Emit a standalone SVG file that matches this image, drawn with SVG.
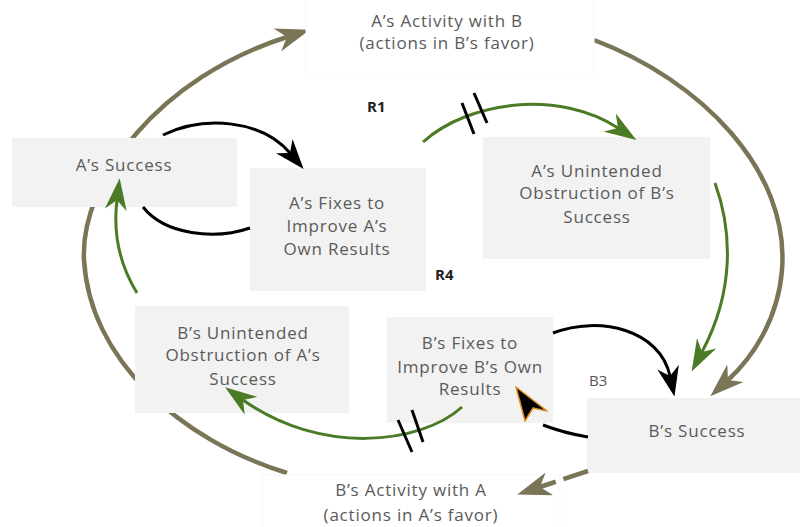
<svg xmlns="http://www.w3.org/2000/svg" width="800" height="527" viewBox="0 0 800 527">
  <style>
    .box { fill: #f2f2f2; }
    .abox { fill: #ffffff; stroke: #f8f8f8; stroke-width: 1; }
    .lbl { font-family: "Open Sans", "Liberation Sans", sans-serif; font-size: 17px; letter-spacing: 0.8px; fill: #5a5a5a; text-anchor: middle; }
    .loop { font-family: "Open Sans", "Liberation Sans", sans-serif; font-size: 15px; }
    .olive { fill: none; stroke: #7b7558; stroke-width: 4.5; }
    .green { fill: none; stroke: #4b7b25; stroke-width: 3; }
    .black { fill: none; stroke: #000000; stroke-width: 3; }
    .tick { stroke: #000000; stroke-width: 3; }
  </style>
  <defs>
    <marker id="headOlive" markerUnits="userSpaceOnUse" viewBox="0 -12 34 24" refX="10" refY="0" markerWidth="34" markerHeight="24" orient="auto">
      <path d="M0,-12 L34,0 L0,12 L10,0 Z" fill="#7b7558"/>
    </marker>
    <marker id="headGreen" markerUnits="userSpaceOnUse" viewBox="0 -11 32 22" refX="10" refY="0" markerWidth="32" markerHeight="22" orient="auto">
      <path d="M0,-11 L32,0 L0,11 L10,0 Z" fill="#4b7b25"/>
    </marker>
    <marker id="headBlack" markerUnits="userSpaceOnUse" viewBox="0 -11 30 22" refX="9" refY="0" markerWidth="30" markerHeight="22" orient="auto">
      <path d="M0,-11 L30,0 L0,11 L9,0 Z" fill="#000000"/>
    </marker>
  </defs>

  <rect width="800" height="527" fill="#ffffff"/>

  <!-- outer activity loop, passes behind the success boxes -->
  <g id="connectors-back">
    <path class="olive" d="M287,473 C180,440 90,360 84,260 C80,180 160,77 287,37" marker-end="url(#headOlive)"/>
    <path class="olive" d="M594,40 C700,80 790,170 782,270 C778,320 752,358 728,380" marker-end="url(#headOlive)"/>
  </g>

  <g id="node-a-activity">
    <rect class="abox" x="306" y="-1" width="288" height="76"/>
    <text class="lbl" x="447" y="27">A’s Activity with B</text>
    <text class="lbl" x="447" y="49">(actions in B’s favor)</text>
  </g>
  <g id="node-b-activity">
    <rect class="abox" x="262" y="475" width="298" height="60"/>
    <text class="lbl" x="411" y="496">B’s Activity with A</text>
    <text class="lbl" x="411" y="521">(actions in A’s favor)</text>
  </g>
  <g id="node-a-success">
    <rect class="box" x="12" y="138" width="225" height="69"/>
    <text class="lbl" x="124" y="171">A’s Success</text>
  </g>
  <g id="node-a-fixes">
    <rect class="box" x="250" y="168" width="176" height="123"/>
    <text class="lbl" x="337" y="209">A’s Fixes to</text>
    <text class="lbl" x="337" y="232">Improve A’s</text>
    <text class="lbl" x="337" y="255">Own Results</text>
  </g>
  <g id="node-a-obstruction">
    <rect class="box" x="483" y="137" width="227" height="122"/>
    <text class="lbl" x="597" y="177">A’s Unintended</text>
    <text class="lbl" x="597" y="199">Obstruction of B’s</text>
    <text class="lbl" x="597" y="223">Success</text>
  </g>
  <g id="node-b-obstruction">
    <rect class="box" x="135" y="306" width="214" height="107"/>
    <text class="lbl" x="243" y="339">B’s Unintended</text>
    <text class="lbl" x="243" y="361">Obstruction of A’s</text>
    <text class="lbl" x="243" y="385">Success</text>
  </g>
  <g id="node-b-fixes">
    <rect class="box" x="387" y="317" width="166" height="106"/>
    <text class="lbl" x="470" y="349">B’s Fixes to</text>
    <text class="lbl" x="470" y="373">Improve B’s Own</text>
    <text class="lbl" x="470" y="395">Results</text>
  </g>
  <g id="node-b-success">
    <rect class="box" x="587" y="398" width="213" height="75"/>
    <text class="lbl" x="697" y="437">B’s Success</text>
  </g>

  <g id="connectors">
    <!-- A's fixes loop -->
    <path class="black" d="M163,135 C205,115 262,120 290,153" marker-end="url(#headBlack)"/>
    <path class="black" d="M250,228 C215,240 165,235 143,207"/>
    <!-- delayed obstruction of B -->
    <path class="green" d="M423,142 C470,100 560,90 618,128" marker-end="url(#headGreen)"/>
    <line class="tick" x1="462" y1="103" x2="474" y2="134"/>
    <line class="tick" x1="474" y1="93" x2="487" y2="123"/>
    <path class="green" d="M715,183 C732,230 735,290 702,352" marker-end="url(#headGreen)"/>
    <!-- B's fixes loop -->
    <path class="black" d="M553,333 C600,315 660,330 670,376" marker-end="url(#headBlack)"/>
    <path class="black" d="M588,437 C570,434 556,430 543,425"/>
    <path d="M516,387 L547,411 L533,408 L525,421 Z" fill="#000000" stroke="#e08a1e" stroke-width="1.5" stroke-linejoin="round"/>
    <!-- delayed obstruction of A -->
    <path class="green" d="M462,407 C420,445 320,455 243,400" marker-end="url(#headGreen)"/>
    <line class="tick" x1="398" y1="420" x2="412" y2="452"/>
    <line class="tick" x1="412" y1="410" x2="423" y2="442"/>
    <path class="green" d="M137,293 C118,262 113,232 117,200" marker-end="url(#headGreen)"/>
    <!-- B's activity toward A -->
    <path class="olive" d="M588,471 L540,487" stroke-dasharray="26,8" marker-end="url(#headOlive)"/>
  </g>

  <g id="loop-labels">
    <text class="loop" x="367" y="112" font-weight="bold" fill="#222222">R1</text>
    <text class="loop" x="435" y="280" font-weight="bold" fill="#222222">R4</text>
    <text class="loop" x="589" y="386" fill="#555555">B3</text>
  </g>
</svg>
